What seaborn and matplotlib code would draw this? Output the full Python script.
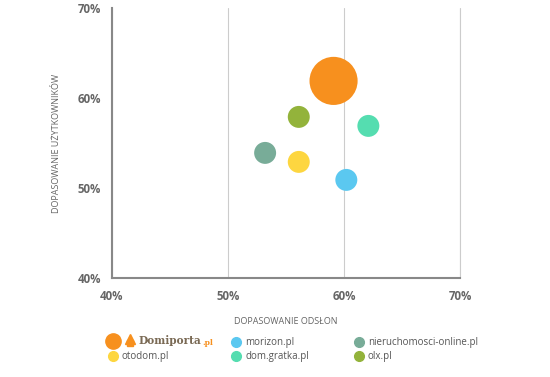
import matplotlib
matplotlib.use("Agg")
import matplotlib.pyplot as plt
import seaborn as sns
import pandas as pd
from matplotlib.lines import Line2D

portals = ["Domiporta.pl", "morizon.pl", "nieruchomosci-online.pl", "otodom.pl", "dom.gratka.pl", "olx.pl"]
page_match = [59.1, 60.2, 53.2, 56.1, 62.1, 56.1]
user_match = [61.9, 50.9, 53.9, 52.9, 56.9, 57.9]
weight = [4.0, 1.0, 1.0, 1.0, 1.0, 1.0]
colors = ["#F7901E", "#5BC8F0", "#78AC98", "#FDD640", "#55DDB0", "#93B33B"]

x_ticks = [40, 50, 60, 70]
y_ticks = [40, 50, 60, 70]

df = pd.DataFrame({"portal": portals, "x": page_match, "y": user_match, "w": weight})

sns.set_style("white")
plt.rcParams["font.family"] = ["Open Sans", "DejaVu Sans"]

fig = plt.figure(figsize=(5.5, 3.77), dpi=100)
ax = fig.add_axes([112/550, 1-278/377, (460-112)/550, (278-8)/377])

sns.scatterplot(data=df, x="x", y="y", hue="portal", palette=colors, size="w",
                sizes=(250, 1200), legend=False, linewidth=0, ax=ax, zorder=3, alpha=1)

ax.set_xlim(40, 70)
ax.set_ylim(40, 70)
ax.set_xticks(x_ticks)
ax.set_yticks(y_ticks)
ax.set_xticklabels([f"{t}%" for t in x_ticks])
ax.set_yticklabels([f"{t}%" for t in y_ticks])
for lbl in ax.get_xticklabels() + ax.get_yticklabels():
    lbl.set_fontweight("bold")
    lbl.set_color("#666666")
    lbl.set_fontsize(8.3)
ax.tick_params(axis="both", which="both", direction="out", length=5, width=0.8, color="#999999")
ax.tick_params(axis="x", pad=4)
ax.tick_params(axis="y", pad=3)
ax.xaxis.grid(True, color="#cccccc", linewidth=0.8)
ax.yaxis.grid(False)
ax.axvline(70, color="#cccccc", linewidth=0.8, clip_on=False, zorder=0)
ax.set_axisbelow(True)
for s in ["top", "right"]:
    ax.spines[s].set_visible(False)
for s in ["left", "bottom"]:
    ax.spines[s].set_color("#888888")
    ax.spines[s].set_linewidth(1.5)

ax.set_xlabel("DOPASOWANIE ODSŁON", fontsize=6.5, color="#666666", labelpad=10)
ax.set_ylabel("DOPASOWANIE UŻYTKOWNIKÓW", fontsize=6.5, color="#666666", labelpad=12)

# custom legend
def fx(px):
    return px / 550
def fy(py):
    return 1 - py / 377

entries = [
    (portals[1], colors[1], 236, 342),
    (portals[2], colors[2], 359, 342),
    (portals[3], colors[3], 113, 356),
    (portals[4], colors[4], 236, 356),
    (portals[5], colors[5], 359, 356),
]
for name, c, px, py in entries:
    fig.add_artist(Line2D([fx(px)], [fy(py)], marker="o", markersize=7, color=c,
                          linestyle="none", transform=fig.transFigure))
    fig.text(fx(px + 9), fy(py), name, fontsize=7, color="#555555", va="center", ha="left")

# Domiporta entry
fig.add_artist(Line2D([fx(113)], [fy(341)], marker="o", markersize=11, color=colors[0],
                      linestyle="none", transform=fig.transFigure))
fig.add_artist(Line2D([fx(130)], [fy(339)], marker="^", markersize=7, color=colors[0],
                      linestyle="none", transform=fig.transFigure))
fig.add_artist(Line2D([fx(130)], [fy(343)], marker="s", markersize=4, color=colors[0],
                      linestyle="none", transform=fig.transFigure))
fig.text(fx(138), fy(341), "Domiporta", fontsize=7.6, fontweight="bold", color="#7a6a55",
         va="center", ha="left", family=["DejaVu Serif"])
fig.text(fx(202), fy(343), ".pl", fontsize=5.5, fontweight="bold", color=colors[0],
         va="center", ha="left", family=["DejaVu Serif"])

fig.savefig("out.png", dpi=100)
